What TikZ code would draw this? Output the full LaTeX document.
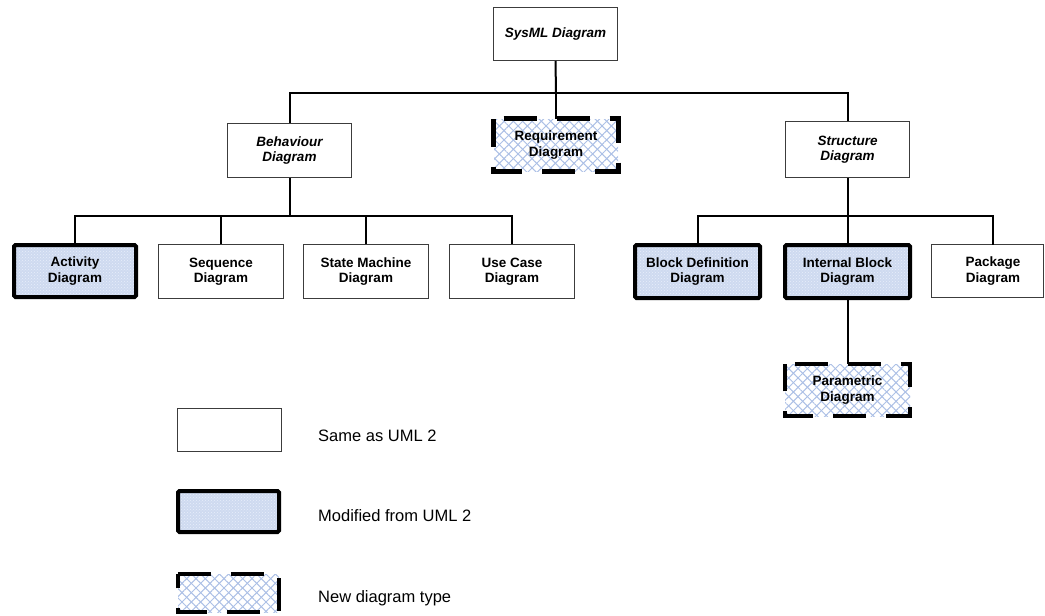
\documentclass[tikz,border=0pt]{standalone}
\usepackage{fontspec}
\setmainfont{Liberation Sans}
\usetikzlibrary{patterns,patterns.meta}

\definecolor{modfill}{RGB}{206,218,240}
\definecolor{modspeck}{RGB}{232,238,250}
\definecolor{hatch}{RGB}{172,192,230}
\definecolor{thinedge}{RGB}{60,60,60}

\tikzset{
  lbl/.style={font=\fontsize{13.5}{15.5}\selectfont\bfseries, align=center, inner sep=0pt},
  samebox/.style={rectangle, draw=thinedge, line width=1pt, fill=white},
  modbox/.style={rectangle, draw=black, line width=4pt, rounded corners=1.5pt,
    preaction={fill=modfill}, pattern=crosshatch dots, pattern color=modspeck},
  newbox/.style={rectangle, preaction={fill=white},
    preaction={pattern={Lines[angle=45,distance=6.6pt,line width=1pt]}, pattern color=hatch},
    pattern={Lines[angle=-45,distance=6.6pt,line width=1pt]}, pattern color=hatch},
  newedge/.style={draw=black, line width=4.5pt, line join=miter,
    dash pattern=on 33pt off 20pt},
  link/.style={draw=black, line width=2pt, line join=miter},
  legendtext/.style={font=\fontsize{16.5}{19}\selectfont, anchor=base west, inner sep=0pt}
}

% dashed outline around a "new diagram type" node
\newcommand{\dashedframe}[2]{%
  \draw[newedge, dash phase=#2] (#1.north west) -- (#1.north east)
    -- (#1.south east) -- (#1.south west) -- cycle;}

\begin{document}
\begin{tikzpicture}[x=1pt,y=-1pt]
\useasboundingbox (0,0) rectangle (1045,616);

% ---- top level ----
\node[samebox, lbl, minimum width=124, minimum height=53] (sysml) at (555.5,34) {\itshape SysML Diagram};

% ---- second level ----
\node[samebox, lbl, minimum width=124, minimum height=54] (beh) at (289.5,150.5) {\itshape Behaviour\\\itshape Diagram};
\node[newbox, lbl, minimum width=124, minimum height=52] (req) at (556,145) {Requirement\\Diagram};
\dashedframe{req}{43}
\node[samebox, lbl, minimum width=124, minimum height=56] (struct) at (847.5,149.5) {\itshape Structure\\\itshape Diagram};

% ---- behaviour diagrams ----
\node[modbox, lbl, minimum width=122, minimum height=52] (act) at (75,271) {Activity\\Diagram};
\node[samebox, lbl, minimum width=125, minimum height=54] (seq) at (221,271.5) {Sequence\\Diagram};
\node[samebox, lbl, minimum width=125, minimum height=54] (sm) at (366,271.5) {State Machine\\Diagram};
\node[samebox, lbl, minimum width=125, minimum height=54] (uc) at (512,271.5) {Use Case\\Diagram};

% ---- structure diagrams ----
\node[modbox, lbl, minimum width=125, minimum height=53] (bdd) at (697.5,271.5) {Block Definition\\Diagram};
\node[modbox, lbl, minimum width=125, minimum height=53] (ibd) at (847.5,271.5) {Internal Block\\Diagram};
\node[samebox, minimum width=112, minimum height=53] (pkg) at (987.5,271) {};
\node[lbl] (pkglabel) at (993,271) {Package\\Diagram};
\node[newbox, lbl, minimum width=125, minimum height=52] (par) at (847.5,390) {Parametric\\Diagram};
\dashedframe{par}{43}

% ---- connectors ----
\coordinate (busA) at (556,93);
\coordinate (busB) at (289.5,216);
\coordinate (busC) at (847.5,216);
\coordinate (pkgtop) at (993,244.5);

\draw[link] (sysml.south) -- (busA);
\draw[link] (beh.north) |- (busA) -| (struct.north);
\draw[link] (busA) -- (req.north);

\draw[link] (beh.south) -- (busB);
\draw[link] (act.north) |- (busB) -| (uc.north);
\draw[link] (seq.north) -- (seq.north |- busB);
\draw[link] (sm.north) -- (sm.north |- busB);

\draw[link] (struct.south) -- (ibd.north);
\draw[link] (bdd.north) |- (busC) -| (pkgtop);
\draw[link] (ibd.south) -- (par.north);

% ---- legend ----
\node[samebox, minimum width=104, minimum height=43] (lsame) at (229.5,430) {};
\node[modbox, minimum width=101, minimum height=41] (lmod) at (228.5,511.5) {};
\node[newbox, minimum width=101, minimum height=38] (lnew) at (228.5,593) {};
\dashedframe{lnew}{0}

\node[legendtext] (tsame) at (318,441) {Same as UML 2};
\node[legendtext] (tmod) at (318,521) {Modified from UML 2};
\node[legendtext] (tnew) at (318,602) {New diagram type};
\end{tikzpicture}
\end{document}
